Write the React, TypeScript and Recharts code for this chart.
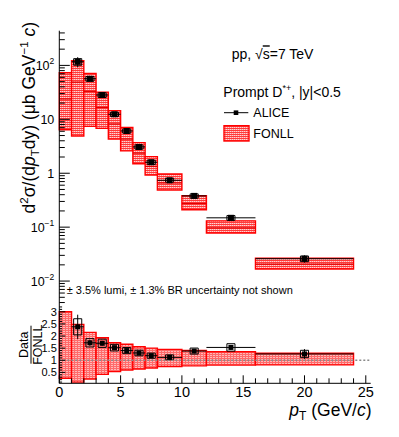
import React from "react";
import {
  ComposedChart,
  Scatter,
  XAxis,
  YAxis,
  ErrorBar,
  ReferenceArea,
  ReferenceLine,
} from "recharts";

const FONT = '"Liberation Sans", Arial, Helvetica, sans-serif';

// ALICE prompt D*+ cross section, pp 7 TeV
const ptCenter = [1.5, 2.5, 3.5, 4.5, 5.5, 6.5, 7.5, 9, 11, 14, 20];
const ptHalfWidth = [0.5, 0.5, 0.5, 0.5, 0.5, 0.5, 0.5, 1, 1, 2, 4];
const aliceXsec = [117, 56.5, 28.2, 12.4, 6.07, 3.07, 1.6, 0.74, 0.38, 0.149, 0.026];
const aliceStat = [25, 3.5, 1.5, 0.6, 0.3, 0.15, 0.09, 0.04, 0.02, 0.01, 0.004];
const aliceSystRel = [0.14, 0.1, 0.1, 0.09, 0.09, 0.09, 0.09, 0.09, 0.09, 0.1, 0.12];

// data / FONLL
const ratioValue = [2.38, 1.72, 1.7, 1.52, 1.4, 1.3, 1.19, 1.12, 1.38, 1.53, 1.26];
const ratioStat = [0.5, 0.12, 0.1, 0.08, 0.07, 0.07, 0.06, 0.06, 0.08, 0.1, 0.2];

// FONLL bands
const fonllLo = [0, 1, 2, 3, 4, 5, 6, 7, 8, 10, 12, 16];
const fonllHi = [1, 2, 3, 4, 5, 6, 7, 8, 10, 12, 16, 24];
const fonllCentral = [23.8, 49, 33, 16.6, 8.2, 4.3, 2.36, 1.34, 0.66, 0.275, 0.097, 0.0206];
const fonllMin = [6.4, 4.9, 7.4, 6.8, 4.3, 2.6, 1.5, 0.93, 0.49, 0.21, 0.078, 0.0167];
const fonllMax = [73, 122, 71, 32, 14.5, 7.1, 3.7, 2.03, 0.97, 0.385, 0.131, 0.0266];
const fonllRatioMin = [0.26, 0.1, 0.23, 0.42, 0.53, 0.6, 0.64, 0.68, 0.74, 0.77, 0.8, 0.81];
const fonllRatioMax = [3.0, 2.48, 2.15, 1.93, 1.72, 1.66, 1.56, 1.5, 1.45, 1.4, 1.35, 1.29];

// axes
const xMajorTicks = [0, 5, 10, 15, 20, 25];
const xTickLabels = ["0", "5", "10", "15", "20", "25"];
const yMajorTicks = [0.01, 0.1, 1, 10, 100];
const yTickBase = ["10", "10", "1", "10", "10"];
const yTickExp = ["\u22122", "\u22121", "", "", "2"];
const rMajorTicks = [0.5, 1, 1.5, 2, 2.5, 3];
const rTickLabels = ["0.5", "1", "1.5", "2", "2.5", "3"];

const X_DOMAIN: [number, number] = [0, 25.4];
const Y_DOMAIN: [number, number] = [0.0036, 440];
const R_DOMAIN: [number, number] = [0.05, 3.28];

const xTicksAll: number[] = [];
for (let i = 0; i <= 25; i++) xTicksAll.push(i);
const yTicksAll: number[] = [];
for (let e = -3; e <= 2; e++) {
  for (let m = 1; m <= 9; m++) {
    const v = m * Math.pow(10, e);
    if (v >= Y_DOMAIN[0] && v <= Y_DOMAIN[1]) yTicksAll.push(v);
  }
}
const rTicksAll: number[] = [];
for (let i = 1; i <= 32; i++) rTicksAll.push(i / 10);

const majorIndex = (v: number, majors: number[]) =>
  majors.findIndex((m) => Math.abs(m - v) < Math.abs(m) * 1e-6 + 1e-9);

const alicePoints = ptCenter.map((x, i) => ({
  x,
  y: aliceXsec[i],
  ex: ptHalfWidth[i],
  ey: aliceStat[i],
}));
const ratioPoints = ptCenter.map((x, i) => ({
  x,
  y: ratioValue[i],
  ex: ptHalfWidth[i],
  ey: ratioStat[i],
}));

const square = (size: number) => (p: any) =>
  (
    <rect
      x={p.cx - size / 2}
      y={p.cy - size / 2}
      width={size}
      height={size}
      fill="#000"
    />
  );

// tick renderers (ROOT style: ticks point into the frame)
const LogLeftTick = (props: any) => {
  const { x, y, payload } = props;
  const i = majorIndex(payload.value, yMajorTicks);
  return (
    <g>
      <line x1={x} y1={y} x2={x + (i >= 0 ? 10.5 : 5.5)} y2={y} stroke="#000" />
      {i >= 0 && (
        <text
          x={x - 5}
          y={y + 4.5}
          textAnchor="end"
          fontSize={12.5}
          fontFamily={FONT}
          fill="#000"
        >
          {yTickBase[i]}
          {yTickExp[i] && (
            <tspan dy={-6} fontSize={8.5}>
              {yTickExp[i]}
            </tspan>
          )}
        </text>
      )}
    </g>
  );
};

const LogRightTick = (props: any) => {
  const { x, y, payload } = props;
  const major = majorIndex(payload.value, yMajorTicks) >= 0;
  return <line x1={x} y1={y} x2={x - (major ? 10.5 : 5.5)} y2={y} stroke="#000" />;
};

const RatioLeftTick = (props: any) => {
  const { x, y, payload } = props;
  const i = majorIndex(payload.value, rMajorTicks);
  return (
    <g>
      <line x1={x} y1={y} x2={x + (i >= 0 ? 6 : 2.8)} y2={y} stroke="#000" />
      {i >= 0 && (
        <text
          x={x - 2.5}
          y={y + 4}
          textAnchor="end"
          fontSize={11}
          fontFamily={FONT}
          fill="#000"
        >
          {rTickLabels[i]}
        </text>
      )}
    </g>
  );
};

const RatioRightTick = (props: any) => {
  const { x, y, payload } = props;
  const major = majorIndex(payload.value, rMajorTicks) >= 0;
  return <line x1={x} y1={y} x2={x - (major ? 6 : 2.8)} y2={y} stroke="#000" />;
};

const XTickUp = (props: any) => {
  const { x, y, payload } = props;
  const major = majorIndex(payload.value, xMajorTicks) >= 0;
  return <line x1={x} y1={y} x2={x} y2={y - (major ? 9 : 4.5)} stroke="#000" />;
};

const XTickDown = (props: any) => {
  const { x, y, payload } = props;
  const major = majorIndex(payload.value, xMajorTicks) >= 0;
  return <line x1={x} y1={y} x2={x} y2={y + (major ? 7.5 : 3.8)} stroke="#000" />;
};

const XTickRatio = (props: any) => {
  const { x, y, payload } = props;
  const i = majorIndex(payload.value, xMajorTicks);
  return (
    <g>
      <line x1={x} y1={y} x2={x} y2={y - (i >= 0 ? 8 : 5)} stroke="#000" />
      {i >= 0 && (
        <text
          x={x}
          y={y + 13.7}
          textAnchor="middle"
          fontSize={14.5}
          fontFamily={FONT}
          fill="#000"
        >
          {xTickLabels[i]}
        </text>
      )}
    </g>
  );
};

const Patterns = ({ prefix }: { prefix: string }) => (
  <defs>
    <pattern id={`${prefix}Top`} width={2} height={2} patternUnits="userSpaceOnUse">
      <rect width={2} height={2} fill="#ff3a3a" />
      <rect x={0} y={1} width={1} height={1} fill="#ffd4d4" />
      <rect x={1} y={1} width={1} height={1} fill="#ff8a8a" />
    </pattern>
    <pattern id={`${prefix}Ratio`} width={3} height={2} patternUnits="userSpaceOnUse">
      <rect width={3} height={2} fill="#ff6a6a" />
      <rect x={0} y={1} width={2} height={1} fill="#ffb8b8" />
    </pattern>
  </defs>
);

export default function App() {
  return (
    <div
      style={{
        position: "absolute",
        left: 0,
        top: 0,
        width: 399,
        height: 437,
        background: "#fff",
        fontFamily: FONT,
      }}
    >
      {/* cross section panel */}
      <div style={{ position: "absolute", left: 0, top: 0 }}>
        <ComposedChart
          width={399}
          height={306}
          margin={{ top: 30.7, right: 28.3, bottom: 1, left: 0 }}
        >
          <Patterns prefix="a" />
          <XAxis
            type="number"
            dataKey="x"
            domain={X_DOMAIN}
            allowDataOverflow
            ticks={xTicksAll}
            interval={0}
            height={0}
            tickSize={0}
            tickMargin={0}
            tickLine={false}
            axisLine={{ stroke: "#000" }}
            tick={<XTickUp />}
          />
          <XAxis
            xAxisId="t"
            orientation="top"
            type="number"
            dataKey="x"
            domain={X_DOMAIN}
            allowDataOverflow
            ticks={xTicksAll}
            interval={0}
            height={0}
            tickSize={0}
            tickMargin={0}
            tickLine={false}
            axisLine={{ stroke: "#000" }}
            tick={<XTickDown />}
          />
          <YAxis
            type="number"
            dataKey="y"
            scale="log"
            domain={Y_DOMAIN}
            allowDataOverflow
            ticks={yTicksAll}
            interval={0}
            width={59.3}
            tickSize={0}
            tickMargin={0}
            tickLine={false}
            axisLine={{ stroke: "#000" }}
            tick={<LogLeftTick />}
          />
          <YAxis
            yAxisId="r"
            orientation="right"
            type="number"
            dataKey="y"
            scale="log"
            domain={Y_DOMAIN}
            allowDataOverflow
            ticks={yTicksAll}
            interval={0}
            width={0}
            tickSize={0}
            tickMargin={0}
            tickLine={false}
            axisLine={{ stroke: "#000" }}
            tick={<LogRightTick />}
          />
          {fonllLo.map((lo, i) => (
            <ReferenceArea
              key={`f${i}`}
              x1={lo}
              x2={fonllHi[i]}
              y1={fonllMin[i]}
              y2={fonllMax[i]}
              fill="url(#aTop)"
              fillOpacity={1}
              stroke="#ff0000"
              strokeWidth={1.4}
            />
          ))}
          {fonllLo.map((lo, i) => (
            <ReferenceLine
              key={`c${i}`}
              segment={[
                { x: lo, y: fonllCentral[i] },
                { x: fonllHi[i], y: fonllCentral[i] },
              ]}
              stroke="#e00000"
              strokeWidth={1.2}
            />
          ))}
          {ptCenter.map((x, i) => (
            <ReferenceArea
              key={`s${i}`}
              x1={x - 0.33}
              x2={x + 0.33}
              y1={aliceXsec[i] * (1 - aliceSystRel[i])}
              y2={aliceXsec[i] * (1 + aliceSystRel[i])}
              fill="none"
              stroke="#000"
              strokeWidth={1}
            />
          ))}
          <Scatter
            data={alicePoints}
            dataKey="y"
            fill="#000"
            shape={square(6)}
            isAnimationActive={false}
          >
            <ErrorBar dataKey="ex" direction="x" width={0} stroke="#000" strokeWidth={1} />
            <ErrorBar dataKey="ey" direction="y" width={0} stroke="#000" strokeWidth={1} />
          </Scatter>
        </ComposedChart>
      </div>

      {/* ratio panel */}
      <div style={{ position: "absolute", left: 0, top: 300 }}>
        <ComposedChart
          width={399}
          height={137}
          margin={{ top: 5, right: 28.3, bottom: 23.7, left: 0 }}
        >
          <Patterns prefix="b" />
          <XAxis
            type="number"
            dataKey="x"
            domain={X_DOMAIN}
            allowDataOverflow
            ticks={xTicksAll}
            interval={0}
            height={30}
            tickSize={0}
            tickMargin={0}
            tickLine={false}
            axisLine={{ stroke: "#000" }}
            tick={<XTickRatio />}
          />
          <XAxis
            xAxisId="t"
            orientation="top"
            type="number"
            dataKey="x"
            domain={X_DOMAIN}
            allowDataOverflow
            ticks={xMajorTicks}
            height={0}
            tickSize={0}
            tickMargin={0}
            tickLine={false}
            axisLine={{ stroke: "#000" }}
            tick={false}
          />
          <YAxis
            type="number"
            dataKey="y"
            domain={R_DOMAIN}
            allowDataOverflow
            ticks={rTicksAll}
            interval={0}
            width={59.3}
            tickSize={0}
            tickMargin={0}
            tickLine={false}
            axisLine={{ stroke: "#000" }}
            tick={<RatioLeftTick />}
          />
          <YAxis
            yAxisId="r"
            orientation="right"
            type="number"
            dataKey="y"
            domain={R_DOMAIN}
            allowDataOverflow
            ticks={rTicksAll}
            interval={0}
            width={0}
            tickSize={0}
            tickMargin={0}
            tickLine={false}
            axisLine={{ stroke: "#000" }}
            tick={<RatioRightTick />}
          />
          {fonllLo.map((lo, i) => (
            <ReferenceArea
              key={`rf${i}`}
              x1={lo}
              x2={fonllHi[i]}
              y1={fonllRatioMin[i]}
              y2={fonllRatioMax[i]}
              fill="url(#bRatio)"
              fillOpacity={1}
              stroke="#ff0000"
              strokeWidth={1.4}
            />
          ))}
          <ReferenceLine y={1} stroke="#8a8a8a" strokeWidth={1.5} strokeDasharray="2 2" />
          {ptCenter.map((x, i) => (
            <ReferenceArea
              key={`rs${i}`}
              x1={x - 0.33}
              x2={x + 0.33}
              y1={ratioValue[i] * (1 - aliceSystRel[i])}
              y2={ratioValue[i] * (1 + aliceSystRel[i])}
              fill="none"
              stroke="#000"
              strokeWidth={1}
            />
          ))}
          <Scatter
            data={ratioPoints}
            dataKey="y"
            fill="#000"
            shape={square(5)}
            isAnimationActive={false}
          >
            <ErrorBar dataKey="ex" direction="x" width={0} stroke="#000" strokeWidth={1} />
            <ErrorBar dataKey="ey" direction="y" width={0} stroke="#000" strokeWidth={1} />
          </Scatter>
        </ComposedChart>
      </div>

      {/* titles, labels and legend */}
      <svg
        width={399}
        height={437}
        style={{ position: "absolute", left: 0, top: 0, pointerEvents: "none" }}
        fontFamily={FONT}
      >
        <Patterns prefix="c" />
        <text
          x={35}
          y={22}
          transform="rotate(-90 35 22)"
          textAnchor="end"
          fontSize={17.5}
          fill="#000"
        >
          d<tspan dy={-7} fontSize={11.5}>2</tspan>
          <tspan dy={7}>σ/(d</tspan>
          <tspan fontStyle="italic">p</tspan>
          <tspan dy={4} fontSize={11.5}>T</tspan>
          <tspan dy={-4}>dy) (μb GeV</tspan>
          <tspan dy={-7} fontSize={11.5}>−1</tspan>
          <tspan dy={7}> </tspan>
          <tspan fontStyle="italic">c</tspan>
          <tspan>)</tspan>
        </text>

        <g transform="rotate(-90 31 344.7)">
          <text x={31} y={342.2} textAnchor="middle" fontSize={12.5} fill="#000">
            Data
          </text>
          <line x1={12} x2={50} y1={344.7} y2={344.7} stroke="#000" strokeWidth={1} />
          <text x={31} y={355.7} textAnchor="middle" fontSize={12.5} fill="#000">
            FONLL
          </text>
        </g>

        <text x={371.5} y={415.5} textAnchor="end" fontSize={17.5} fill="#000">
          <tspan fontStyle="italic">p</tspan>
          <tspan dy={4} fontSize={12}>T</tspan>
          <tspan dy={-4}> (GeV/</tspan>
          <tspan fontStyle="italic">c</tspan>
          <tspan>)</tspan>
        </text>

        <text x={231.7} y={59.3} fontSize={14} fill="#000">
          pp, √<tspan style={{ textDecoration: "overline" }}>s</tspan>=7 TeV
        </text>
        <text x={223.3} y={96.7} fontSize={14} fill="#000">
          Prompt D<tspan dy={-6} fontSize={9}>*+</tspan>
          <tspan dy={6}>, |y|&lt;0.5</tspan>
        </text>

        <line x1={224} x2={248.3} y1={112.7} y2={112.7} stroke="#000" strokeWidth={1} />
        <rect x={233.7} y={110.4} width={4.6} height={4.6} fill="#000" />
        <text x={253.3} y={117.3} fontSize={12.5} fill="#000">
          ALICE
        </text>
        <rect
          x={224}
          y={125.7}
          width={25}
          height={15.3}
          fill="url(#cTop)"
          stroke="#ff0000"
          strokeWidth={1.4}
        />
        <text x={253.3} y={138.3} fontSize={12.5} fill="#000">
          FONLL
        </text>

        <text x={66.7} y={293.5} fontSize={11} fill="#000">
          ± 3.5% lumi, ± 1.3% BR uncertainty not shown
        </text>
      </svg>
    </div>
  );
}
